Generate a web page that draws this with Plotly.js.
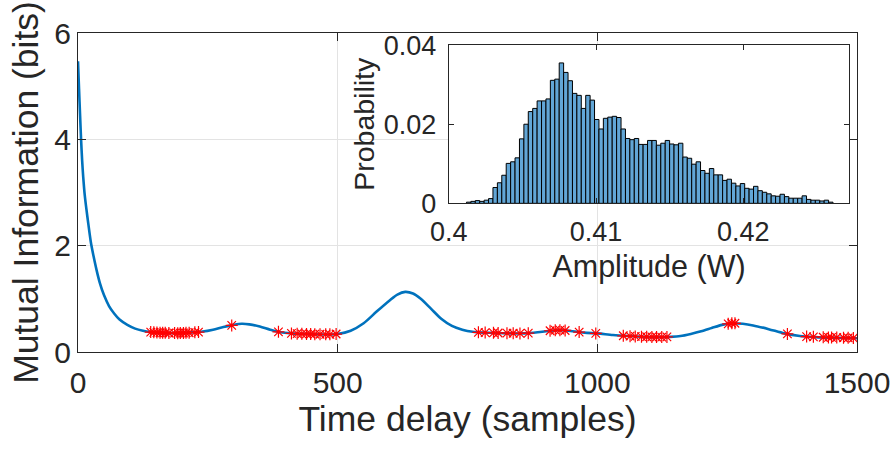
<!DOCTYPE html>
<html>
<head>
<meta charset="utf-8">
<script src="https://cdn.plot.ly/plotly-3.0.1.min.js"></script>
<style>html,body{margin:0;padding:0;background:#fff;}#chart{width:893px;height:450px;}</style>
</head>
<body>
<div id="chart"></div>
<script>
// Main curve: mutual information vs time delay
const delaySamples = [0,2,4,6,8,10,13,16,20,25,30,36,42,50,60,70,80,95,110,125,140,160,180,200,220,240,260,280,300,315,330,350,370,390,410,440,470,500,525,550,575,600,615,630,645,660,680,700,720,740,760,780,800,830,860,885,910,925,940,960,980,1000,1030,1060,1090,1120,1140,1160,1180,1200,1220,1240,1260,1280,1300,1330,1360,1390,1420,1450,1480,1500];
const mutualInfo = [5.47,4.95,4.45,3.98,3.6,3.3,2.95,2.7,2.4,2.05,1.8,1.53,1.3,1.07,0.86,0.72,0.61,0.51,0.44,0.40,0.375,0.36,0.355,0.36,0.37,0.385,0.42,0.47,0.51,0.53,0.52,0.48,0.42,0.37,0.35,0.34,0.33,0.34,0.40,0.54,0.76,0.97,1.08,1.13,1.10,1.00,0.81,0.62,0.49,0.42,0.38,0.365,0.36,0.35,0.35,0.37,0.40,0.41,0.405,0.38,0.36,0.35,0.32,0.30,0.285,0.28,0.285,0.30,0.34,0.39,0.45,0.51,0.54,0.53,0.50,0.43,0.35,0.30,0.28,0.27,0.265,0.26];

// Red asterisk markers
const markerDelay = [140,146,152,158,163,168,175,186,192,197,203,208,214,225,232,296,386,411,422,431,440,448,456,466,477,485,497,771,784,800,809,826,838,851,867,909,919,928,938,965,997,1050,1063,1073,1085,1095,1105,1114,1124,1134,1252,1259,1265,1366,1403,1416,1435,1445,1451,1461,1474,1483,1493];
const markerMI = [0.375,0.37,0.365,0.362,0.36,0.36,0.358,0.356,0.355,0.356,0.358,0.36,0.362,0.37,0.375,0.50,0.38,0.35,0.345,0.342,0.34,0.338,0.336,0.334,0.332,0.333,0.338,0.37,0.365,0.36,0.358,0.354,0.352,0.35,0.355,0.40,0.41,0.41,0.405,0.375,0.35,0.305,0.298,0.293,0.289,0.286,0.284,0.282,0.281,0.283,0.53,0.54,0.54,0.34,0.29,0.285,0.278,0.275,0.274,0.272,0.268,0.266,0.263];

// Inset histogram of amplitude
const binStart = 0.4012;
const binWidth = 0.0003;
const probability = [0.0003,0.0005,0.0007,0.0005,0.0008,0.0012,0.0040,0.0052,0.0071,0.0101,0.0105,0.0115,0.0163,0.0200,0.0232,0.0240,0.0259,0.0259,0.0264,0.0311,0.0314,0.0355,0.0331,0.0310,0.0278,0.0273,0.0240,0.0273,0.0261,0.0212,0.0188,0.0215,0.0218,0.0220,0.0217,0.0188,0.0164,0.0161,0.0164,0.0149,0.0149,0.0159,0.0159,0.0147,0.0152,0.0159,0.0150,0.0148,0.0152,0.0117,0.0114,0.0099,0.0105,0.0083,0.0076,0.0088,0.0072,0.0072,0.0058,0.0061,0.0051,0.0044,0.0050,0.0038,0.0036,0.0043,0.0032,0.0028,0.0024,0.0019,0.0018,0.0023,0.0017,0.0013,0.0013,0.0013,0.0019,0.0010,0.0008,0.0008,0.0006,0.0008,0.0003];
const binCenters = probability.map((_, i) => binStart + binWidth * (i + 0.5));

const mainTicks = [0, 500, 1000, 1500];
const mainYTicks = [0, 2, 4, 6];
const insetXTicks = [0.4, 0.41, 0.42];
const insetXLabels = ['0.4', '0.41', '0.42'];
const insetYTicks = [0, 0.02, 0.04];
const insetYLabels = ['0', '0.02', '0.04'];

const FONT = 'Liberation Sans, Arial, sans-serif';
const AX = '#262626';

const traces = [
  {x: delaySamples, y: mutualInfo, type: 'scatter', mode: 'lines',
   line: {color: '#0072BD', width: 2.6, shape: 'spline', smoothing: 0.8},
   xaxis: 'x', yaxis: 'y', hoverinfo: 'skip'},
  {x: markerDelay, y: markerMI, type: 'scatter', mode: 'markers',
   marker: {symbol: 'asterisk-open', color: '#FF0000', size: 10, line: {color: '#FF0000', width: 1.2}},
   xaxis: 'x', yaxis: 'y', hoverinfo: 'skip'},
  {x: binCenters, y: probability, type: 'bar', width: binWidth,
   marker: {color: 'rgb(98,166,214)', line: {color: '#000', width: 1}},
   xaxis: 'x2', yaxis: 'y2', hoverinfo: 'skip'}
];

const layout = {
  width: 893, height: 450,
  margin: {l: 78, r: 36, t: 33, b: 98},
  paper_bgcolor: '#fff', plot_bgcolor: '#fff',
  showlegend: false,
  font: {family: FONT, color: AX},
  bargap: 0,
  xaxis: {
    domain: [0, 1], range: [0, 1500], tickvals: mainTicks, ticktext: mainTicks.map(String),
    showgrid: true, gridcolor: '#e3e3e3', gridwidth: 1, zeroline: false,
    showline: true, linecolor: AX, linewidth: 1, mirror: 'ticks',
    ticks: 'inside', ticklen: 8, tickcolor: AX, ticklabelstandoff: 4,
    tickfont: {family: FONT, size: 30, color: AX},
    title: {text: 'Time delay (samples)', font: {family: FONT, size: 35.5, color: AX}, standoff: 1},
    automargin: false, anchor: 'y'
  },
  yaxis: {
    domain: [0, 1], range: [0, 6], tickvals: mainYTicks, ticktext: mainYTicks.map(String),
    showgrid: true, gridcolor: '#e3e3e3', gridwidth: 1, zeroline: false,
    showline: true, linecolor: AX, linewidth: 1, mirror: 'ticks',
    ticks: 'inside', ticklen: 8, tickcolor: AX,
    tickfont: {family: FONT, size: 30, color: AX},
    title: {text: 'Mutual Information (bits)', font: {family: FONT, size: 35.5, color: AX}, standoff: 4},
    automargin: false, anchor: 'x'
  },
  xaxis2: {
    domain: [0.476, 0.990], range: [0.4, 0.4272], tickvals: insetXTicks, ticktext: insetXLabels,
    showgrid: false, zeroline: false,
    showline: true, linecolor: AX, linewidth: 1, mirror: 'ticks',
    ticks: 'inside', ticklen: 5, tickcolor: AX, ticklabelstandoff: 4,
    tickfont: {family: FONT, size: 27, color: AX},
    title: {text: 'Amplitude (W)', font: {family: FONT, size: 30.5, color: AX}, standoff: 9},
    automargin: false, anchor: 'y2'
  },
  yaxis2: {
    domain: [0.466, 0.962], range: [0, 0.04], tickvals: insetYTicks, ticktext: insetYLabels,
    showgrid: false, zeroline: false,
    showline: true, linecolor: AX, linewidth: 1, mirror: 'ticks',
    ticks: 'inside', ticklen: 5, tickcolor: AX, ticklabelstandoff: 6,
    tickfont: {family: FONT, size: 27, color: AX},
    title: {text: 'Probability', font: {family: FONT, size: 28.5, color: AX}, standoff: 0},
    automargin: false, anchor: 'x2'
  }
};

Plotly.newPlot('chart', traces, layout, {staticPlot: true, displayModeBar: false});
</script>
</body>
</html>
